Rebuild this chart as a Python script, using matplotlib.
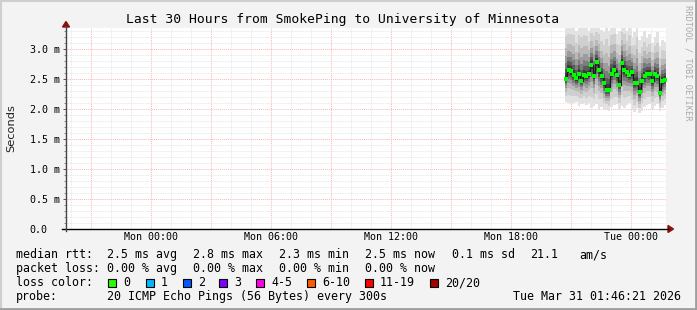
import numpy as np
import matplotlib
matplotlib.use("Agg")
import matplotlib.pyplot as plt
from matplotlib.lines import Line2D
from matplotlib.patches import Polygon, Rectangle

# time axis: hours relative to Mon 00:00
x_start, x_end = -4.2275, 25.7725
data_first, data_last = 20.78, 25.72
tick_hours = [-3, 0, 3, 6, 9, 12, 15, 18, 21, 24]
tick_labels = ["", "Mon 00:00", "", "Mon 06:00", "", "Mon 12:00", "", "Mon 18:00", "", "Tue 00:00"]
ytick_vals = [0.0, 0.5, 1.0, 1.5, 2.0, 2.5, 3.0]
ytick_labels = ["0.0", "0.5 m", "1.0 m", "1.5 m", "2.0 m", "2.5 m", "3.0 m"]

# median rtt (ms) per sample
median = [2.50, 2.65, 2.63, 2.57, 2.51, 2.58, 2.47, 2.56, 2.55, 2.58,
          2.74, 2.55, 2.78, 2.65, 2.55, 2.43, 2.31, 2.32, 2.59, 2.65,
          2.56, 2.40, 2.77, 2.65, 2.61, 2.56, 2.61, 2.43, 2.44, 2.28,
          2.46, 2.55, 2.59, 2.58, 2.47, 2.59, 2.55, 2.27, 2.46, 2.49]
# smoke extents (ms) per sample
smoke_lo = [2.12, 2.10, 2.08, 2.10, 2.12, 2.05, 2.08, 2.10, 2.06, 2.10,
            2.02, 2.05, 2.08, 2.00, 2.04, 1.98, 2.00, 1.97, 2.03, 2.06,
            2.08, 2.00, 2.05, 2.02, 2.06, 2.10, 2.00, 1.95, 2.02, 1.93,
            1.97, 2.04, 2.06, 2.08, 2.00, 2.05, 2.08, 1.96, 2.02, 2.06]
smoke_hi = [3.45, 3.45, 3.45, 3.45, 3.30, 3.45, 3.45, 3.45, 3.45, 3.30,
            3.45, 3.45, 3.45, 3.45, 3.32, 3.28, 3.45, 3.30, 3.45, 3.45,
            3.25, 3.30, 3.45, 3.45, 3.30, 3.45, 3.20, 3.28, 3.45, 3.15,
            3.22, 3.30, 3.18, 3.25, 3.10, 3.20, 3.28, 3.05, 3.15, 3.12]

loss_labels = ["0", "1", "2", "3", "4-5", "6-10", "11-19", "20/20"]
loss_colors = ["#26ff00", "#00b8ff", "#0059ff", "#7e00ff", "#ff00e6", "#ff5a00", "#ff0000", "#a10000"]

W, H = 697, 310
def fx(x): return x / W
def fy(y): return 1 - y / H

mono = "DejaVu Sans Mono"
fig = plt.figure(figsize=(W / 100, H / 100), dpi=100, facecolor="#f3f3f3")
ax = fig.add_axes([fx(66), fy(229), 600 / W, 201 / H])
ax.set_facecolor("white")
ax.set_xlim(x_start, x_end)
ax.set_ylim(0, 3.35)

# grid: minor lines skip the major positions so the red lines show
xminor = [h for h in range(-4, 26) if h % 3 != 0]
yminor = [round(v * 0.1, 1) for v in range(0, 34) if v % 5 != 0]
ax.set_xticks(xminor, minor=True)
ax.set_xticks(tick_hours)
ax.set_xticklabels(tick_labels, family=mono, fontsize=7.2)
ax.set_yticks(yminor, minor=True)
ax.set_yticks(ytick_vals)
ax.set_yticklabels(ytick_labels, family=mono, fontsize=7.2)
for l in ax.get_yticklabels():
    l.set_ha("left")
ax.grid(which="minor", color="#e2e2e2", linestyle=(0, (1, 1)), linewidth=0.6)
ax.grid(which="major", color="#ffb4b4", linestyle=(0, (1, 1)), linewidth=0.7)
ax.tick_params(axis="x", which="both", length=0, pad=2)
ax.tick_params(axis="y", which="major", length=2.2, width=0.7, color="#555555", pad=24)
ax.tick_params(axis="y", which="minor", length=1.5, width=0.7, color="#888888")
for s in ax.spines.values():
    s.set_visible(False)
ax.set_axisbelow(True)

# smoke
t = np.linspace(data_first, data_last, len(median))
dt = t[1] - t[0]
med = np.array(median)
lo = np.array(smoke_lo)
hi = np.array(smoke_hi)
fracs = [1.0, 0.75, 0.55, 0.4, 0.28, 0.18, 0.1]
greys = ["#e2e2e2", "#cfcfcf", "#b9b9b9", "#9c9c9c", "#7c7c7c", "#5a5a5a", "#3a3a3a"]
for f, g in zip(fracs, greys):
    b = med - f * (med - lo)
    top = med + f * (hi - med)
    ax.bar(t, top - b, bottom=b, width=dt, color=g, linewidth=0, antialiased=False)
ax.plot(t, med, color="#1a1a1a", linewidth=0.9, drawstyle="steps-mid")
ax.plot(t, med, linestyle="none", marker="s", markersize=2.2, color="#00ff00", markeredgewidth=0)

# axes lines and arrows
fig.add_artist(Line2D([fx(62), fx(668)], [fy(229), fy(229)], color="#000000", linewidth=1))
fig.add_artist(Line2D([fx(66), fx(66)], [fy(231), fy(26)], color="#444444", linewidth=1))
fig.add_artist(Polygon([[fx(668), fy(225.5)], [fx(668), fy(232.5)], [fx(673.5), fy(229)]],
                       closed=True, color="#8b1010", transform=fig.transFigure))
fig.add_artist(Polygon([[fx(62.5), fy(27)], [fx(69.5), fy(27)], [fx(66), fy(21.5)]],
                       closed=True, color="#8b1010", transform=fig.transFigure))

# frame
fig.add_artist(Line2D([0, 1], [fy(0.5), fy(0.5)], color="#cfcfcf", linewidth=1.5))
fig.add_artist(Line2D([fx(0.5), fx(0.5)], [0, 1], color="#cfcfcf", linewidth=1.5))
fig.add_artist(Line2D([0, 1], [fy(309), fy(309)], color="#9e9e9e", linewidth=2))
fig.add_artist(Line2D([fx(696), fx(696)], [0, 1], color="#9e9e9e", linewidth=2))

# texts
fig.text(fx(343), fy(23.5), "Last 30 Hours from SmokePing to University of Minnesota",
         ha="center", va="baseline", family=mono, fontsize=9.4)
fig.text(fx(11), fy(128), "Seconds", rotation=90, ha="center", va="center",
         family="DejaVu Sans", fontsize=8.2, color="#202020")
fig.text(fx(688), fy(5), "RRDTOOL / TOBI OETIKER", rotation=270, ha="center", va="top",
         family=mono, fontsize=6.2, color="#aaaaaa")

fs = 8.4
rows = [
    (258, [(16, "median rtt:"), (107, "2.5 ms avg"), (193, "2.8 ms max"), (279, "2.3 ms min"),
           (365, "2.5 ms now"), (452, "0.1 ms sd"), (530, "21.1"), (579, "am/s")]),
    (272, [(16, "packet loss:"), (107, "0.00 % avg"), (193, "0.00 % max"), (279, "0.00 % min"),
           (365, "0.00 % now")]),
    (300, [(16, "probe:"), (107, "20 ICMP Echo Pings (56 Bytes) every 300s"),
           (513, "Tue Mar 31 01:46:21 2026")]),
]
for yb, items in rows:
    for x, s in items:
        fig.text(fx(x), fy(yb), s, ha="left", va="baseline", family=mono, fontsize=fs)

fig.text(fx(16), fy(286), "loss color:", ha="left", va="baseline", family=mono, fontsize=fs)
box_x = [108, 146, 183, 219, 256, 307, 365, 430]
for bx, lab, col in zip(box_x, loss_labels, loss_colors):
    fig.add_artist(Rectangle((fx(bx), fy(286.5)), 8 / W, 8 / H, facecolor=col,
                             edgecolor="black", linewidth=0.8, transform=fig.transFigure))
    fig.text(fx(bx + 15), fy(286), lab, ha="left", va="baseline", family=mono, fontsize=fs)

fig.savefig("out.png", dpi=100, facecolor=fig.get_facecolor())
